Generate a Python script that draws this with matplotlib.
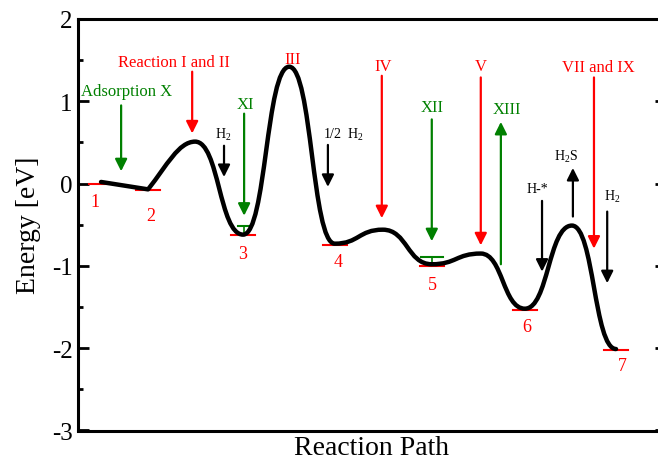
import matplotlib
matplotlib.use("Agg")
import matplotlib.pyplot as plt
from matplotlib.path import Path
from matplotlib.patches import PathPatch
from matplotlib.ticker import MultipleLocator

plt.rcParams['font.family'] = ['Liberation Serif', 'DejaVu Serif']
plt.rcParams['mathtext.fontset'] = 'custom'
plt.rcParams['mathtext.rm'] = 'Liberation Serif'
plt.rcParams['axes.unicode_minus'] = False

# ---------------- data ----------------
# key points of the energy profile (minima and maxima), in order
path_x = [0.47, 1.43, 2.39, 3.37, 4.31, 5.24, 6.22, 7.22, 8.22, 9.12, 10.08, 10.98]
path_E = [0.02, -0.07, 0.51, -0.62, 1.42, -0.73, -0.56, -0.98, -0.85, -1.52, -0.51, -2.01]

# intermediate states (red levels)
state_labels = ["1", "2", "3", "4", "5", "6", "7"]
state_x = [0.47, 1.43, 3.37, 5.24, 7.22, 9.12, 10.98]
state_E = [-0.01, -0.08, -0.63, -0.75, -1.00, -1.53, -2.02]
state_label_x = [0.35, 1.49, 3.35, 5.30, 7.24, 9.16, 11.10]
state_label_E = [-0.22, -0.39, -0.85, -0.95, -1.23, -1.74, -2.21]

# green levels
green_x = [3.39, 7.22]
green_E = [-0.51, -0.89]
green_halfwidth = [0.12, 0.22]

# arrows: label, x, start E, end E, label x, label E, colour
arrow_labels = ["Adsorption X", "Reaction I and II", "H$_2$", "XI", "1/2  H$_2$",
                "IV", "XII", "V", "XIII", "H-*", "H$_2$S", "VII and IX", "H$_2$"]
arrow_x = [0.88, 2.33, 2.98, 3.39, 5.10, 6.20, 7.22, 8.22, 8.63, 9.47, 10.10, 10.53, 10.80]
arrow_start = [0.95, 1.36, 0.46, 0.85, 0.47, 1.31, 0.78, 1.29, -0.98, -0.21, -0.40, 1.29, -0.34]
arrow_end = [0.15, 0.61, 0.08, -0.39, -0.04, -0.42, -0.70, -0.75, 0.75, -1.07, 0.19, -0.79, -1.21]
arrow_label_x = [1.00, 1.96, 2.96, 3.41, 5.41, 6.22, 7.22, 8.22, 8.76, 9.37, 9.96, 10.61, 10.90]
arrow_label_E = [1.13, 1.48, 0.61, 0.97, 0.61, 1.43, 0.93, 1.43, 0.91, -0.06, 0.34, 1.42, -0.15]
arrow_colors = ["green", "red", "black", "green", "black", "red", "green", "red",
                "green", "black", "black", "red", "black"]

# extra label without arrow
extra_label = "III"
extra_x = 4.39
extra_E = 1.52

ytick_vals = [-3, -2, -1, 0, 1, 2]

# ---------------- figure ----------------
fig = plt.figure(figsize=(6.58, 4.60), dpi=100)
ax = fig.add_axes([78 / 658, 1 - 431.5 / 460, (666 - 78) / 658, (431.5 - 20) / 460])
ax.set_xlim(0, 12)
ax.set_ylim(-3, 2)

# red state levels
for sx, se in zip(state_x, state_E):
    ax.plot([sx - 0.24, sx + 0.24], [se, se], color='red', lw=1.5, zorder=2)
for lab, lx, le in zip(state_labels, state_label_x, state_label_E):
    ax.text(lx, le, lab, color='red', fontsize=13, ha='center', va='center')

# green levels (T shape)
for gx, ge, hw in zip(green_x, green_E, green_halfwidth):
    ax.plot([gx - hw, gx + hw], [ge, ge], color='green', lw=1.5, zorder=2)
    ax.plot([gx, gx], [ge, ge - 0.1], color='green', lw=1.2, zorder=2)

# smooth energy profile using cubic Bezier segments
verts = [(path_x[0], path_E[0])]
codes = [Path.MOVETO]
for i in range(len(path_x) - 1):
    x0, y0, x1, y1 = path_x[i], path_E[i], path_x[i + 1], path_E[i + 1]
    dx, dy = x1 - x0, y1 - y0
    if i == 0:
        c1 = (x0 + dx / 3, y0 + dy / 3)
        c2 = (x0 + 2 * dx / 3, y0 + 2 * dy / 3)
    elif i == 1:
        c1 = (x0 + 0.4 * dx, y0 + 0.5 * dy)
        c2 = (x1 - 0.35 * dx, y1)
    else:
        c1 = (x0 + 0.5 * dx, y0)
        c2 = (x1 - 0.5 * dx, y1)
    verts += [c1, c2, (x1, y1)]
    codes += [Path.CURVE4] * 3
ax.add_patch(PathPatch(Path(verts, codes), fill=False, lw=3.2, edgecolor='black',
                       capstyle='round', joinstyle='round', zorder=3))

# arrows
for lab, axx, s, e, lx, le, c in zip(arrow_labels, arrow_x, arrow_start, arrow_end,
                                     arrow_label_x, arrow_label_E, arrow_colors):
    ax.annotate('', xy=(axx, e), xytext=(axx, s),
                arrowprops=dict(arrowstyle='-|>', color=c, lw=1.6, mutation_scale=18,
                                shrinkA=0, shrinkB=0), zorder=4)
    fs = 10 if c == 'black' else 12
    ax.text(lx, le, lab, color=c, fontsize=fs, ha='center', va='center')

ax.text(extra_x, extra_E, extra_label, color='red', fontsize=12, ha='center', va='center')

# axes styling
for sp in ax.spines.values():
    sp.set_linewidth(2.2)
ax.set_xticks([])
ax.set_yticks(ytick_vals)
ax.set_yticklabels([str(v) for v in ytick_vals])
ax.yaxis.set_minor_locator(MultipleLocator(0.5))
ax.tick_params(axis='y', which='major', direction='in', length=8, width=2, labelsize=18,
               left=True, right=True, pad=4)
ax.tick_params(axis='y', which='minor', direction='in', length=3.8, width=2,
               left=True, right=True)
ax.set_xlabel("Reaction Path", fontsize=20, labelpad=3)
ax.set_ylabel("Energy [eV]", fontsize=20, labelpad=8)

fig.savefig("out.png", dpi=100)
